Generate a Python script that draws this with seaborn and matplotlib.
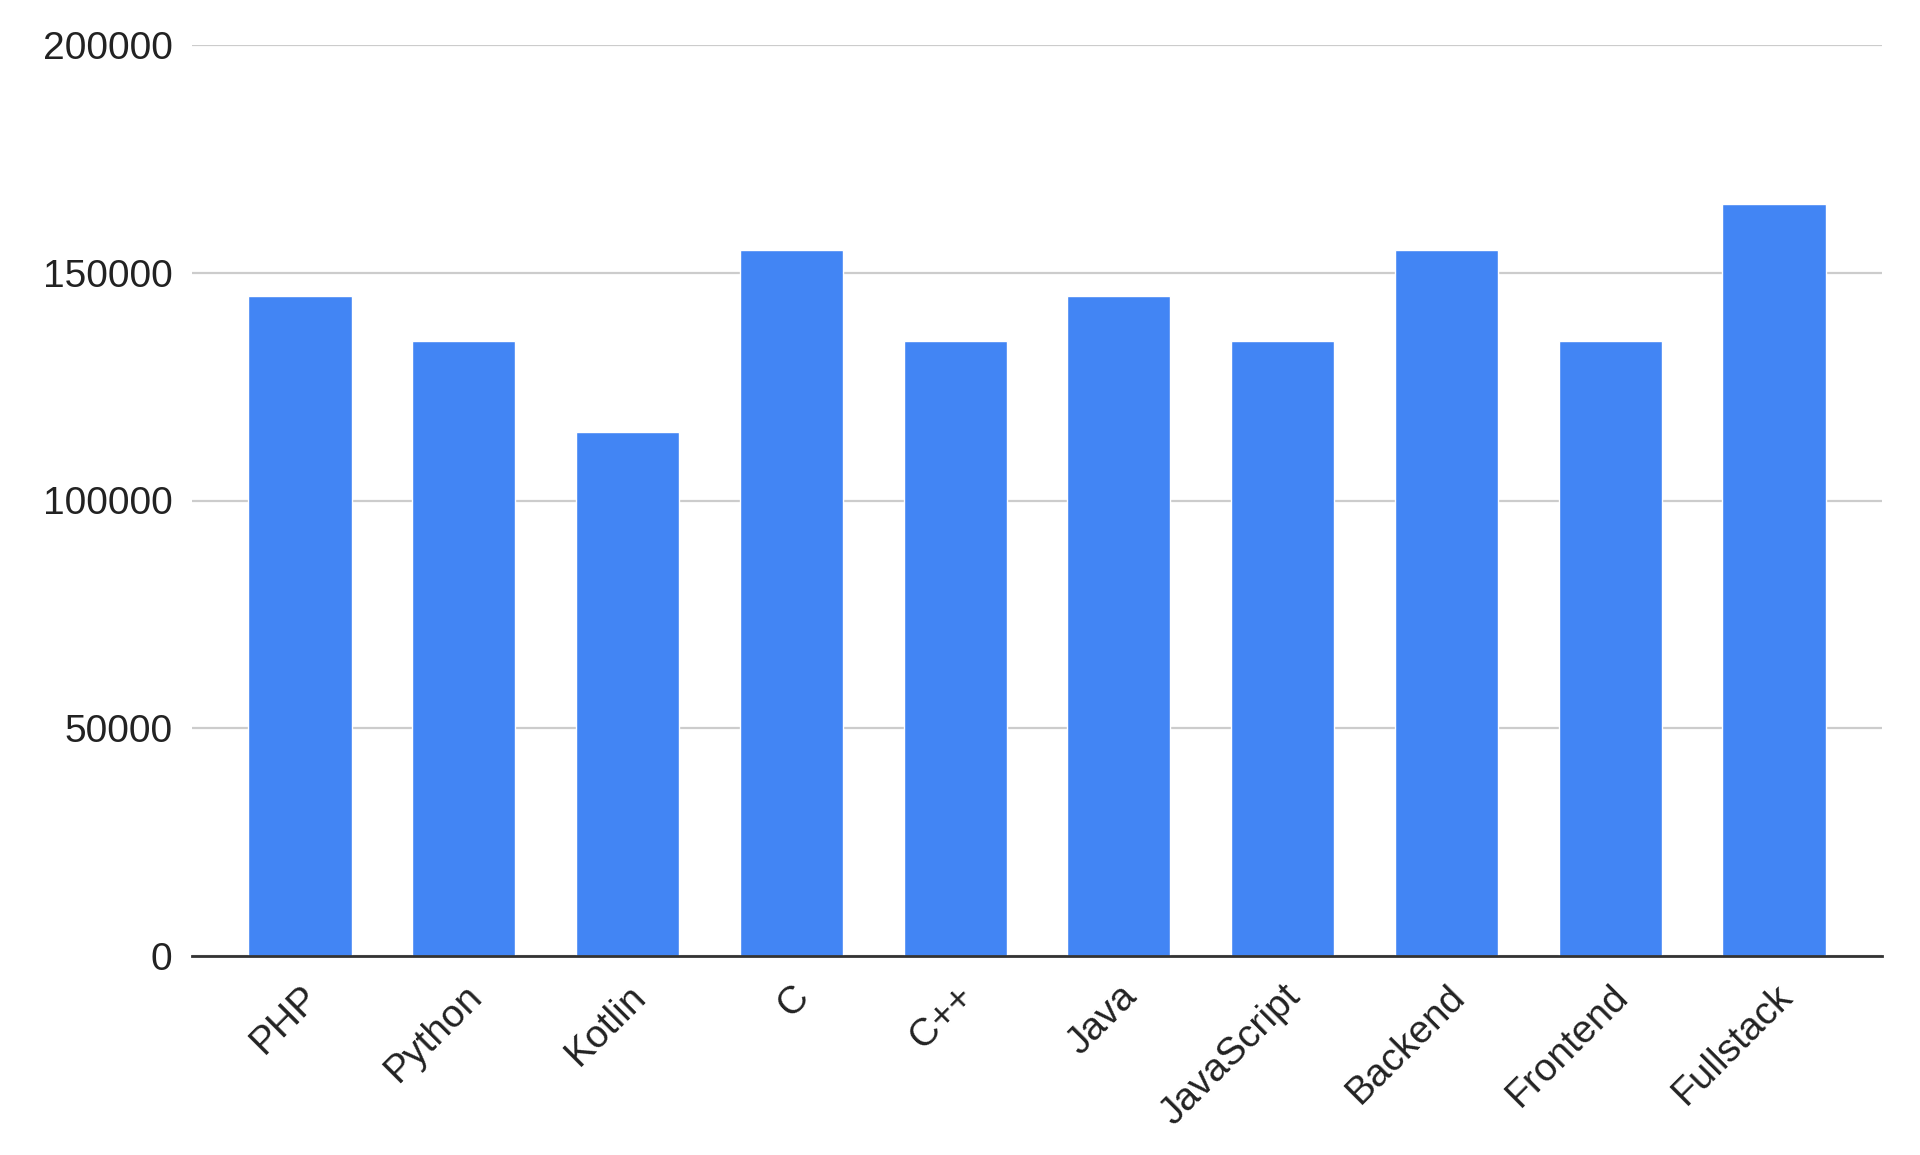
import seaborn as sns
import matplotlib.pyplot as plt
import pandas as pd

# Data
categories = ['PHP', 'Python', 'Kotlin', 'C', 'C++', 'Java', 'JavaScript', 'Backend', 'Frontend', 'Fullstack']
values = [145000, 135000, 115000, 155000, 135000, 145000, 135000, 155000, 135000, 165000]
y_ticks = [0, 50000, 100000, 150000, 200000]

df = pd.DataFrame({'Category': categories, 'Value': values})

sns.set_style('white')
plt.rcParams['font.family'] = ['Liberation Sans', 'DejaVu Sans']

fig = plt.figure(figsize=(19.2, 11.55), dpi=100)
ax = fig.add_axes([192 / 1920, 1 - 956 / 1155, (1882 - 192) / 1920, (956 - 45) / 1155])

sns.barplot(data=df, x='Category', y='Value', color='#4285f4', saturation=1,
            width=0.63, ax=ax, zorder=3)

ax.set_xlim(-0.66, 9.66)
ax.set_ylim(0, 200000)
ax.set_yticks(y_ticks)
ax.set_yticklabels([str(v) for v in y_ticks], fontsize=28, color='#222222')
ax.grid(axis='y', color='#cccccc', linewidth=1.6, zorder=0)
ax.set_xlabel('')
ax.set_ylabel('')

for s in ['top', 'right', 'left']:
    ax.spines[s].set_visible(False)
ax.spines['bottom'].set_color('#333333')
ax.spines['bottom'].set_linewidth(2)
ax.spines['bottom'].set_zorder(4)

ax.tick_params(axis='y', length=0, pad=14)
ax.tick_params(axis='x', length=0, pad=16)
plt.setp(ax.get_xticklabels(), rotation=45, ha='right', rotation_mode='anchor',
         fontsize=28, color='#222222')

fig.savefig('out.png')
plt.close()
